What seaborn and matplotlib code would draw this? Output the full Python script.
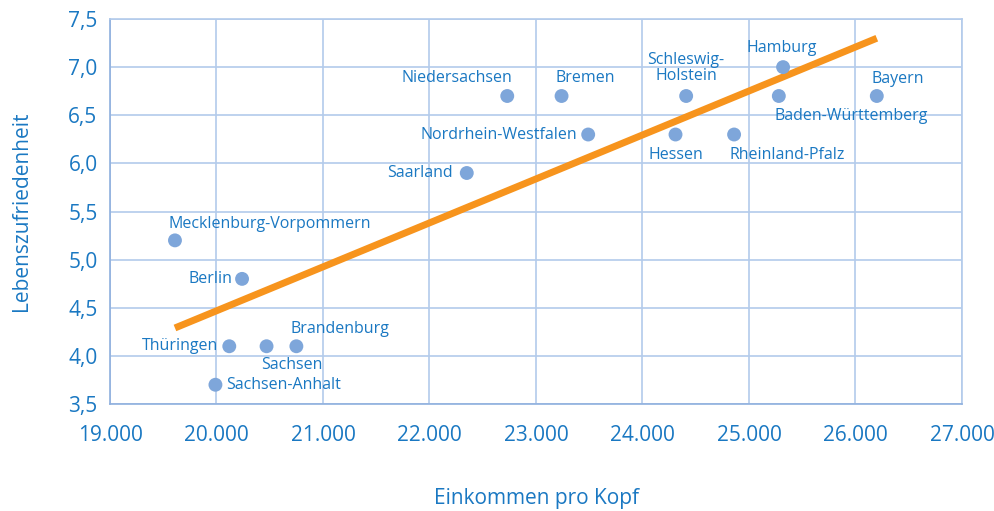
import matplotlib
matplotlib.use("Agg")
import matplotlib.pyplot as plt
import seaborn as sns
import pandas as pd
from matplotlib.ticker import FuncFormatter

states = ["Mecklenburg-Vorpommern", "Berlin", "Thüringen", "Sachsen", "Brandenburg",
          "Sachsen-Anhalt", "Saarland", "Niedersachsen", "Bremen", "Nordrhein-Westfalen",
          "Schleswig-\nHolstein", "Hessen", "Rheinland-Pfalz", "Hamburg",
          "Baden-Württemberg", "Bayern"]
income = [19610, 20240, 20120, 20470, 20750, 19990, 22350, 22730, 23240, 23490,
          24410, 24310, 24860, 25320, 25280, 26200]
satisfaction = [5.2, 4.8, 4.1, 4.1, 4.1, 3.7, 5.9, 6.7, 6.7, 6.3, 6.7, 6.3, 6.3, 7.0, 6.7, 6.7]

# label placement: (dx, dy in pixels, ha, va)
label_pos = {
    "Mecklenburg-Vorpommern": (-6, 16, "left", "center"),
    "Berlin": (-10, 0, "right", "center"),
    "Thüringen": (-11, 0, "right", "center"),
    "Sachsen": (-5, -19, "left", "center"),
    "Brandenburg": (-6, 17, "left", "center"),
    "Sachsen-Anhalt": (11, 0, "left", "center"),
    "Saarland": (-14, 0, "right", "center"),
    "Niedersachsen": (5, 18, "right", "center"),
    "Bremen": (-6, 18, "left", "center"),
    "Nordrhein-Westfalen": (-11, 0, "right", "center"),
    "Schleswig-\nHolstein": (0, 28, "center", "center"),
    "Hessen": (0, -20, "center", "center"),
    "Rheinland-Pfalz": (-5, -20, "left", "center"),
    "Hamburg": (-1, 19, "center", "center"),
    "Baden-Württemberg": (-4, -20, "left", "center"),
    "Bayern": (-5, 17, "left", "center"),
}

df = pd.DataFrame({"state": states, "income": income, "satisfaction": satisfaction})

TEXT = "#1a78c2"
POINT = "#7ea6da"
GRID = "#b3cbeb"
ORANGE = "#f7941d"

sns.set_style("white")
plt.rcParams["font.family"] = ["Open Sans", "DejaVu Sans"]

fig = plt.figure(figsize=(9.95, 5.11), dpi=100)
ax = fig.add_axes([110/995, 1-404/511, (962-110)/995, (404-19)/511])

sns.regplot(data=df, x="income", y="satisfaction", ax=ax, scatter=False, ci=None,
            line_kws=dict(color=ORANGE, lw=5, solid_capstyle="butt", zorder=2))
sns.scatterplot(data=df, x="income", y="satisfaction", ax=ax, color=POINT, s=100,
                edgecolor="none", zorder=3)

for s, x, y in zip(states, income, satisfaction):
    dx, dy, ha, va = label_pos[s]
    ax.annotate(s, (x, y), xytext=(dx, dy), textcoords="offset pixels", ha=ha, va=va,
                color=TEXT, fontsize=11.5, linespacing=0.95, zorder=4)

ax.set_xlim(19000, 27000)
ax.set_ylim(3.5, 7.5)
ax.set_xticks(range(19000, 27001, 1000))
ax.set_yticks([3.5, 4.0, 4.5, 5.0, 5.5, 6.0, 6.5, 7.0, 7.5])
ax.xaxis.set_major_formatter(FuncFormatter(lambda v, p: f"{int(v):,}".replace(",", ".")))
ax.yaxis.set_major_formatter(FuncFormatter(lambda v, p: f"{v:.1f}".replace(".", ",")))
ax.grid(True, color=GRID, lw=1.2, zorder=0)
ax.set_axisbelow(True)
for side, sp in ax.spines.items():
    sp.set_visible(True)
    sp.set_color(GRID)
    sp.set_linewidth(1.2)
ax.spines["left"].set_color("#8fb0de")
ax.spines["bottom"].set_color("#8fb0de")
ax.tick_params(axis="both", length=0, colors=TEXT, labelsize=15)
ax.tick_params(axis="x", pad=15)
ax.tick_params(axis="y", pad=9)
ax.set_xlabel("Einkommen pro Kopf", color=TEXT, fontsize=15, labelpad=30)
ax.set_ylabel("Lebenszufriedenheit", color=TEXT, fontsize=15, labelpad=26)

fig.savefig("out.png", dpi=100)
